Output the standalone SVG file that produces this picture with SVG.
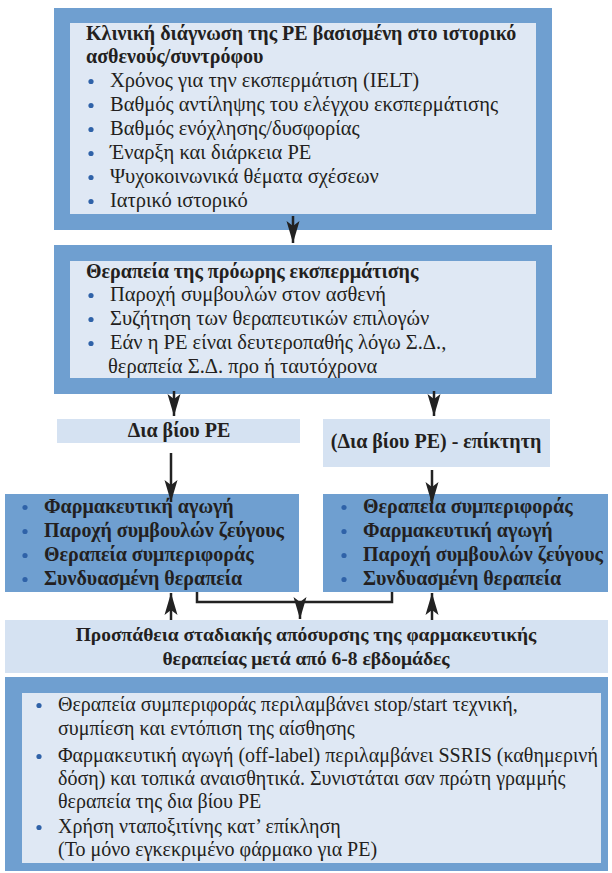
<svg xmlns="http://www.w3.org/2000/svg" width="612" height="873" viewBox="0 0 612 873" font-family="Liberation Serif, DejaVu Serif, serif">
  <style>
    .outer { fill: #6f9fd0; }
    .inner { fill: #dfe8f4; }
    .label { fill: #d5e2f2; }
    text { fill: #231f20; }
    .t { font-size: 20.5px; }
    .n { font-size: 20px; }
    .b { font-size: 20px; font-weight: bold; }
    .bar { font-size: 19.5px; font-weight: bold; }
    .dot { fill: #2f62a8; }
    .mid { text-anchor: middle; }
    .wire { fill: none; stroke: #222; stroke-width: 2.5; }
  </style>
  <defs>
    <marker id="head" markerUnits="userSpaceOnUse" markerWidth="24" markerHeight="14" viewBox="0 -7 24 14" refX="22" refY="0" orient="auto">
      <path d="M0,-6.5 L22,0 L0,6.5 L5,0 Z" fill="#222"/>
    </marker>
    <circle id="bullet" class="dot" r="2.6"/>
  </defs>

  <!-- diagnosis box -->
  <g id="diagnosis">
    <rect class="outer" x="54" y="8" width="498" height="222"/>
    <rect class="inner" x="70" y="23" width="466" height="191"/>
    <text class="b" x="86" y="40">Κλινική διάγνωση της PE βασισμένη στο ιστορικό</text>
    <text class="b" x="86" y="63">ασθενούς/συντρόφου</text>
    <use href="#bullet" x="91" y="81.5"/><text class="t" x="110" y="87">Χρόνος για την εκσπερμάτιση (IELT)</text>
    <use href="#bullet" x="91" y="105.5"/><text class="t" x="110" y="111">Βαθμός αντίληψης του ελέγχου εκσπερμάτισης</text>
    <use href="#bullet" x="91" y="129.5"/><text class="t" x="110" y="135">Βαθμός ενόχλησης/δυσφορίας</text>
    <use href="#bullet" x="91" y="153.5"/><text class="t" x="110" y="159">Έναρξη και διάρκεια PE</text>
    <use href="#bullet" x="91" y="177.5"/><text class="t" x="110" y="183">Ψυχοκοινωνικά θέματα σχέσεων</text>
    <use href="#bullet" x="91" y="201.5"/><text class="t" x="110" y="207">Ιατρικό ιστορικό</text>
  </g>

  <!-- treatment box -->
  <g id="treatment">
    <rect class="outer" x="54" y="245" width="498" height="149"/>
    <rect class="inner" x="70" y="261" width="466" height="117"/>
    <text class="b" x="86" y="278">Θεραπεία της πρόωρης εκσπερμάτισης</text>
    <use href="#bullet" x="91" y="295.5"/><text class="t" x="110" y="301">Παροχή συμβουλών στον ασθενή</text>
    <use href="#bullet" x="91" y="319.5"/><text class="t" x="110" y="325">Συζήτηση των θεραπευτικών επιλογών</text>
    <use href="#bullet" x="91" y="343.5"/><text class="t" x="110" y="349">Εάν η PE είναι δευτεροπαθής λόγω Σ.Δ.,</text>
    <text class="t" x="108" y="373">θεραπεία Σ.Δ. προ ή ταυτόχρονα</text>
  </g>

  <!-- lifelong label -->
  <g id="lifelong">
    <rect class="label" x="57" y="419" width="243" height="24"/>
    <text class="b mid" x="179" y="437">Δια βίου PE</text>
  </g>

  <!-- acquired label -->
  <g id="acquired">
    <rect class="label" x="323" y="419" width="227" height="48"/>
    <text class="b mid" x="436" y="448">(Δια βίου PE) - επίκτητη</text>
  </g>

  <!-- lifelong options -->
  <g id="lifelong-options">
    <rect class="outer" x="5" y="494" width="294" height="98"/>
    <use href="#bullet" x="25" y="507.5"/><text class="b" x="44" y="513">Φαρμακευτική αγωγή</text>
    <use href="#bullet" x="25" y="531.5"/><text class="b" x="44" y="537">Παροχή συμβουλών ζεύγους</text>
    <use href="#bullet" x="25" y="555.5"/><text class="b" x="44" y="561">Θεραπεία συμπεριφοράς</text>
    <use href="#bullet" x="25" y="579.5"/><text class="b" x="44" y="585">Συνδυασμένη θεραπεία</text>
  </g>

  <!-- acquired options -->
  <g id="acquired-options">
    <rect class="outer" x="323" y="494" width="285" height="98"/>
    <use href="#bullet" x="344" y="507.5"/><text class="b" x="363" y="513">Θεραπεία συμπεριφοράς</text>
    <use href="#bullet" x="344" y="531.5"/><text class="b" x="363" y="537">Φαρμακευτική αγωγή</text>
    <use href="#bullet" x="344" y="555.5"/><text class="b" x="363" y="561">Παροχή συμβουλών ζεύγους</text>
    <use href="#bullet" x="344" y="579.5"/><text class="b" x="363" y="585">Συνδυασμένη θεραπεία</text>
  </g>

  <!-- withdrawal bar -->
  <g id="withdrawal">
    <rect class="label" x="5" y="620" width="603" height="53"/>
    <text class="bar mid" x="306" y="641">Προσπάθεια σταδιακής απόσυρσης της φαρμακευτικής</text>
    <text class="bar mid" x="306" y="665">θεραπείας μετά από 6-8 εβδομάδες</text>
  </g>

  <!-- notes box -->
  <g id="notes">
    <rect class="outer" x="5" y="677" width="603" height="194"/>
    <rect class="inner" x="22" y="693" width="579" height="170"/>
    <use href="#bullet" x="39" y="705.5"/><text class="n" x="58" y="711">Θεραπεία συμπεριφοράς περιλαμβάνει stop/start τεχνική,</text>
    <text class="n" x="58" y="735">συμπίεση και εντόπιση της αίσθησης</text>
    <use href="#bullet" x="39" y="756.5"/><text class="n" x="58" y="762">Φαρμακευτική αγωγή (off-label) περιλαμβάνει SSRIS (καθημερινή</text>
    <text class="n" x="58" y="785">δόση) και τοπικά αναισθητικά. Συνιστάται σαν πρώτη γραμμής</text>
    <text class="n" x="58" y="808">θεραπεία της δια βίου PE</text>
    <use href="#bullet" x="39" y="827.5"/><text class="n" x="58" y="833">Χρήση νταποξιτίνης κατ’ επίκληση</text>
    <text class="n" x="58" y="856">(Το μόνο εγκεκριμένο φάρμακο για PE)</text>
  </g>

  <!-- connectors -->
  <g id="connectors">
    <path class="wire" d="M293,216 V243" marker-end="url(#head)"/>
    <path class="wire" d="M174,391 V416" marker-end="url(#head)"/>
    <path class="wire" d="M434,391 V416" marker-end="url(#head)"/>
    <path class="wire" d="M171,453 V502" marker-end="url(#head)"/>
    <path class="wire" d="M432,470 V504" marker-end="url(#head)"/>
    <path class="wire" d="M197,592 V602 H392 V592"/>
    <path class="wire" d="M300,602 V619" marker-end="url(#head)"/>
    <path class="wire" d="M171,620 V593" marker-end="url(#head)"/>
    <path class="wire" d="M432,620 V593" marker-end="url(#head)"/>
  </g>
</svg>
